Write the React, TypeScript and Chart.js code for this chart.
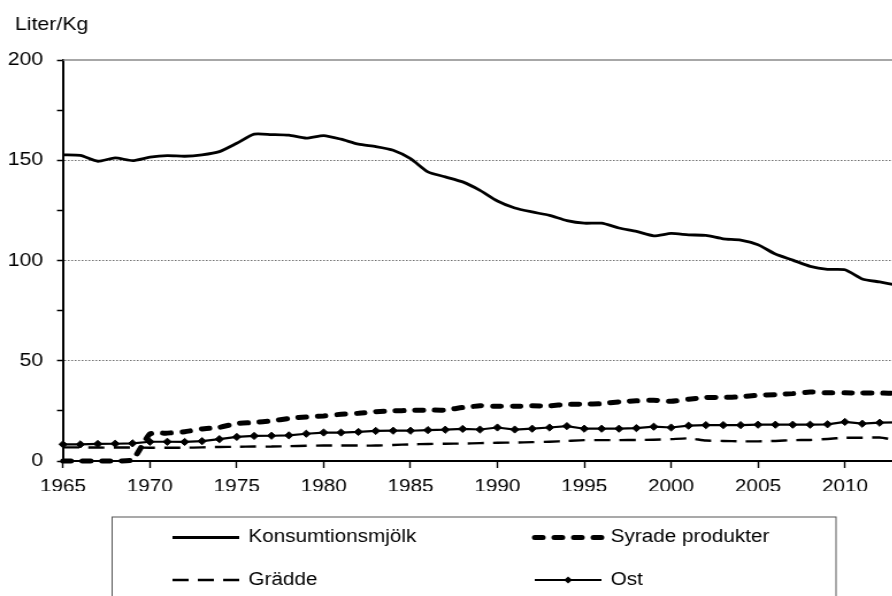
import React, { useEffect, useRef } from 'react';
import { Chart, registerables } from 'chart.js';

Chart.register(...registerables);

// ---- data ----
const years = [
  1965, 1966, 1967, 1968, 1969, 1970, 1971, 1972, 1973, 1974,
  1975, 1976, 1977, 1978, 1979, 1980, 1981, 1982, 1983, 1984,
  1985, 1986, 1987, 1988, 1989, 1990, 1991, 1992, 1993, 1994,
  1995, 1996, 1997, 1998, 1999, 2000, 2001, 2002, 2003, 2004,
  2005, 2006, 2007, 2008, 2009, 2010, 2011, 2012, 2013,
];

const konsumtionsmjolk = [
  152.7, 152.4, 149.5, 151.2, 149.8, 151.5, 152.3, 152.0, 152.7, 154.3,
  158.5, 163.0, 162.8, 162.5, 161.0, 162.3, 160.5, 158.0, 156.8, 155.0,
  150.8, 144.2, 141.7, 139.2, 135.0, 129.7, 126.2, 124.2, 122.5, 119.9,
  118.6, 118.6, 116.2, 114.5, 112.3, 113.5, 112.8, 112.5, 110.8, 110.2,
  107.9, 103.2, 100.2, 97.1, 95.6, 95.4, 90.8, 89.3, 87.7,
];

const syradeProdukter = [
  0, 0, 0, 0, 0.5, 13.5, 13.9, 14.6, 16.0, 16.8,
  18.7, 19.2, 20.0, 21.2, 22.0, 22.5, 23.3, 23.8, 24.6, 25.0,
  25.2, 25.4, 25.4, 26.7, 27.5, 27.3, 27.3, 27.5, 27.5, 28.3,
  28.3, 28.6, 29.5, 30.0, 30.3, 29.8, 30.8, 31.7, 31.7, 32.0,
  32.8, 33.1, 33.6, 34.4, 34.0, 34.0, 33.9, 33.9, 33.7,
];

const gradde = [
  6.8, 6.8, 6.7, 6.7, 6.7, 6.6, 6.6, 6.6, 6.8, 7.0,
  7.1, 7.2, 7.2, 7.4, 7.6, 7.7, 7.7, 7.7, 7.7, 8.0,
  8.3, 8.5, 8.6, 8.7, 8.9, 9.1, 9.2, 9.4, 9.6, 10.0,
  10.4, 10.4, 10.4, 10.5, 10.6, 10.9, 11.3, 10.2, 10.0, 9.8,
  9.8, 10.0, 10.4, 10.5, 11.0, 11.6, 11.6, 11.7, 10.4,
];

const ost = [
  8.3, 8.3, 8.5, 8.6, 8.8, 9.6, 9.6, 9.5, 9.9, 10.9,
  12.0, 12.5, 12.6, 12.8, 13.6, 14.2, 14.2, 14.5, 15.0, 15.1,
  15.1, 15.4, 15.6, 16.0, 15.7, 16.7, 15.7, 16.1, 16.7, 17.4,
  16.1, 16.1, 16.1, 16.4, 17.1, 16.7, 17.6, 17.9, 17.9, 17.9,
  18.1, 18.1, 18.1, 18.1, 18.3, 19.5, 18.6, 19.1, 19.3,
];

const xLabelYears = [1965, 1970, 1975, 1980, 1985, 1990, 1995, 2000, 2005, 2010];
const yLabelValues = [0, 50, 100, 150, 200];
const yGridValues = [50, 100, 150];
const seriesNames = ['Konsumtionsmjölk', 'Syrade produkter', 'Grädde', 'Ost'];
const yTitle = 'Liter/Kg';

// ---- layout ----
const SX = 1.15; // horizontal stretch of the original picture
const W = 800;
const H = 596;
const FONT = '"Liberation Sans", Arial, sans-serif';

const extrasPlugin = {
  id: 'extras',
  beforeDatasetsDraw(chart: any) {
    const { ctx, chartArea: a } = chart;
    ctx.save();
    ctx.strokeStyle = '#8a8a8a';
    ctx.lineWidth = 1.5;
    ctx.beginPath();
    ctx.moveTo(a.left, a.top);
    ctx.lineTo(a.right, a.top);
    ctx.stroke();
    ctx.restore();
  },
  afterDraw(chart: any) {
    const { ctx } = chart;
    ctx.save();
    ctx.fillStyle = '#000';
    ctx.font = `18.5px ${FONT}`;
    ctx.textAlign = 'left';
    ctx.textBaseline = 'alphabetic';
    ctx.fillText(yTitle, 13, 30);

    // legend box
    ctx.strokeStyle = '#555';
    ctx.lineWidth = 1;
    ctx.strokeRect(97.5, 517, 629.5, 140);

    const slots = [
      { x: 150, y: 537.5 },
      { x: 465, y: 537.5 },
      { x: 150, y: 580 },
      { x: 465, y: 580 },
    ];
    const sampleLen = 58;
    chart.data.datasets.forEach((ds: any, i: number) => {
      const s = slots[i];
      ctx.save();
      ctx.strokeStyle = '#000';
      ctx.lineWidth = ds.borderWidth;
      ctx.lineCap = ds.borderCapStyle || 'butt';
      ctx.setLineDash(ds.borderDash || []);
      ctx.beginPath();
      ctx.moveTo(s.x, s.y);
      ctx.lineTo(s.x + sampleLen, s.y);
      ctx.stroke();
      ctx.setLineDash([]);
      if (ds.pointRadius > 0) {
        const r = ds.pointRadius;
        const cx = s.x + sampleLen / 2;
        ctx.fillStyle = '#000';
        ctx.beginPath();
        ctx.moveTo(cx, s.y - r);
        ctx.lineTo(cx + r, s.y);
        ctx.lineTo(cx, s.y + r);
        ctx.lineTo(cx - r, s.y);
        ctx.closePath();
        ctx.fill();
      }
      ctx.restore();
      ctx.fillStyle = '#000';
      ctx.font = `18px ${FONT}`;
      ctx.textBaseline = 'middle';
      ctx.fillText(ds.label, s.x + sampleLen + 8, s.y);
    });
    ctx.restore();
  },
};

export default function App() {
  const canvasRef = useRef<HTMLCanvasElement | null>(null);

  useEffect(() => {
    const canvas = canvasRef.current;
    if (!canvas) return;
    const chart = new Chart(canvas, {
      type: 'line',
      data: {
        labels: years.map(String),
        datasets: [
          {
            label: seriesNames[0],
            data: konsumtionsmjolk,
            borderColor: '#000',
            backgroundColor: '#000',
            borderWidth: 2.8,
            pointRadius: 0,
            tension: 0.2,
            clip: false as any,
          },
          {
            label: seriesNames[1],
            data: syradeProdukter,
            borderColor: '#000',
            backgroundColor: '#000',
            borderWidth: 5,
            borderDash: [7, 10],
            borderCapStyle: 'round',
            pointRadius: 0,
            tension: 0.15,
            clip: false as any,
          },
          {
            label: seriesNames[2],
            data: gradde,
            borderColor: '#000',
            backgroundColor: '#000',
            borderWidth: 2.4,
            borderDash: [14, 8],
            pointRadius: 0,
            tension: 0.2,
            clip: false as any,
          },
          {
            label: seriesNames[3],
            data: ost,
            borderColor: '#000',
            backgroundColor: '#000',
            borderWidth: 2.2,
            pointRadius: 3.6,
            pointStyle: 'rectRot',
            pointBorderWidth: 1,
            tension: 0,
            clip: false as any,
          },
        ],
      },
      options: {
        responsive: false,
        maintainAspectRatio: false,
        animation: false,
        devicePixelRatio: 1,
        events: [],
        layout: { padding: { left: 0, right: 20, top: 60, bottom: 105 } },
        plugins: {
          legend: { display: false },
          title: { display: false },
          tooltip: { enabled: false },
        },
        scales: {
          x: {
            type: 'category',
            offset: false,
            afterFit: (s: any) => {
              s.height = 30;
            },
            grid: {
              display: true,
              drawOnChartArea: false,
              drawTicks: true,
              tickLength: 7,
              tickWidth: 1.4,
              tickColor: (c: any) =>
                xLabelYears.includes(years[c.index]) ? '#000' : 'rgba(0,0,0,0)',
              color: 'rgba(0,0,0,0)',
            },
            border: { display: true, color: '#000', width: 2 },
            ticks: {
              autoSkip: false,
              maxRotation: 0,
              minRotation: 0,
              padding: 8,
              color: '#000',
              font: { family: FONT, size: 18 },
              callback: (_v: any, i: number) =>
                xLabelYears.includes(years[i]) ? String(years[i]) : '',
            },
          },
          y: {
            min: 0,
            max: 200,
            afterFit: (s: any) => {
              s.width = 54.8;
            },
            grid: {
              display: true,
              drawOnChartArea: true,
              drawTicks: true,
              tickLength: 5.2,
              tickWidth: 1.5,
              tickColor: '#000',
              lineWidth: 1,
              color: (c: any) =>
                c.tick && yGridValues.includes(c.tick.value) ? '#6e6e6e' : 'rgba(0,0,0,0)',
            },
            border: { display: true, color: '#000', width: 2, dash: [1.5, 1.5] },
            ticks: {
              stepSize: 25,
              padding: 12,
              color: '#000',
              font: { family: FONT, size: 18.5 },
              callback: (v: any) => (yLabelValues.includes(Number(v)) ? String(v) : ''),
            },
          },
        },
      },
      plugins: [extrasPlugin],
    });
    return () => chart.destroy();
  }, []);

  return (
    <div
      style={{
        position: 'fixed',
        left: 0,
        top: 0,
        width: 892,
        height: 596,
        overflow: 'hidden',
        background: '#fff',
      }}
    >
      <div
        style={{
          width: W,
          height: H,
          transform: `scaleX(${SX})`,
          transformOrigin: '0 0',
        }}
      >
        <canvas ref={canvasRef} width={W} height={H} style={{ display: 'block' }} />
      </div>
    </div>
  );
}
